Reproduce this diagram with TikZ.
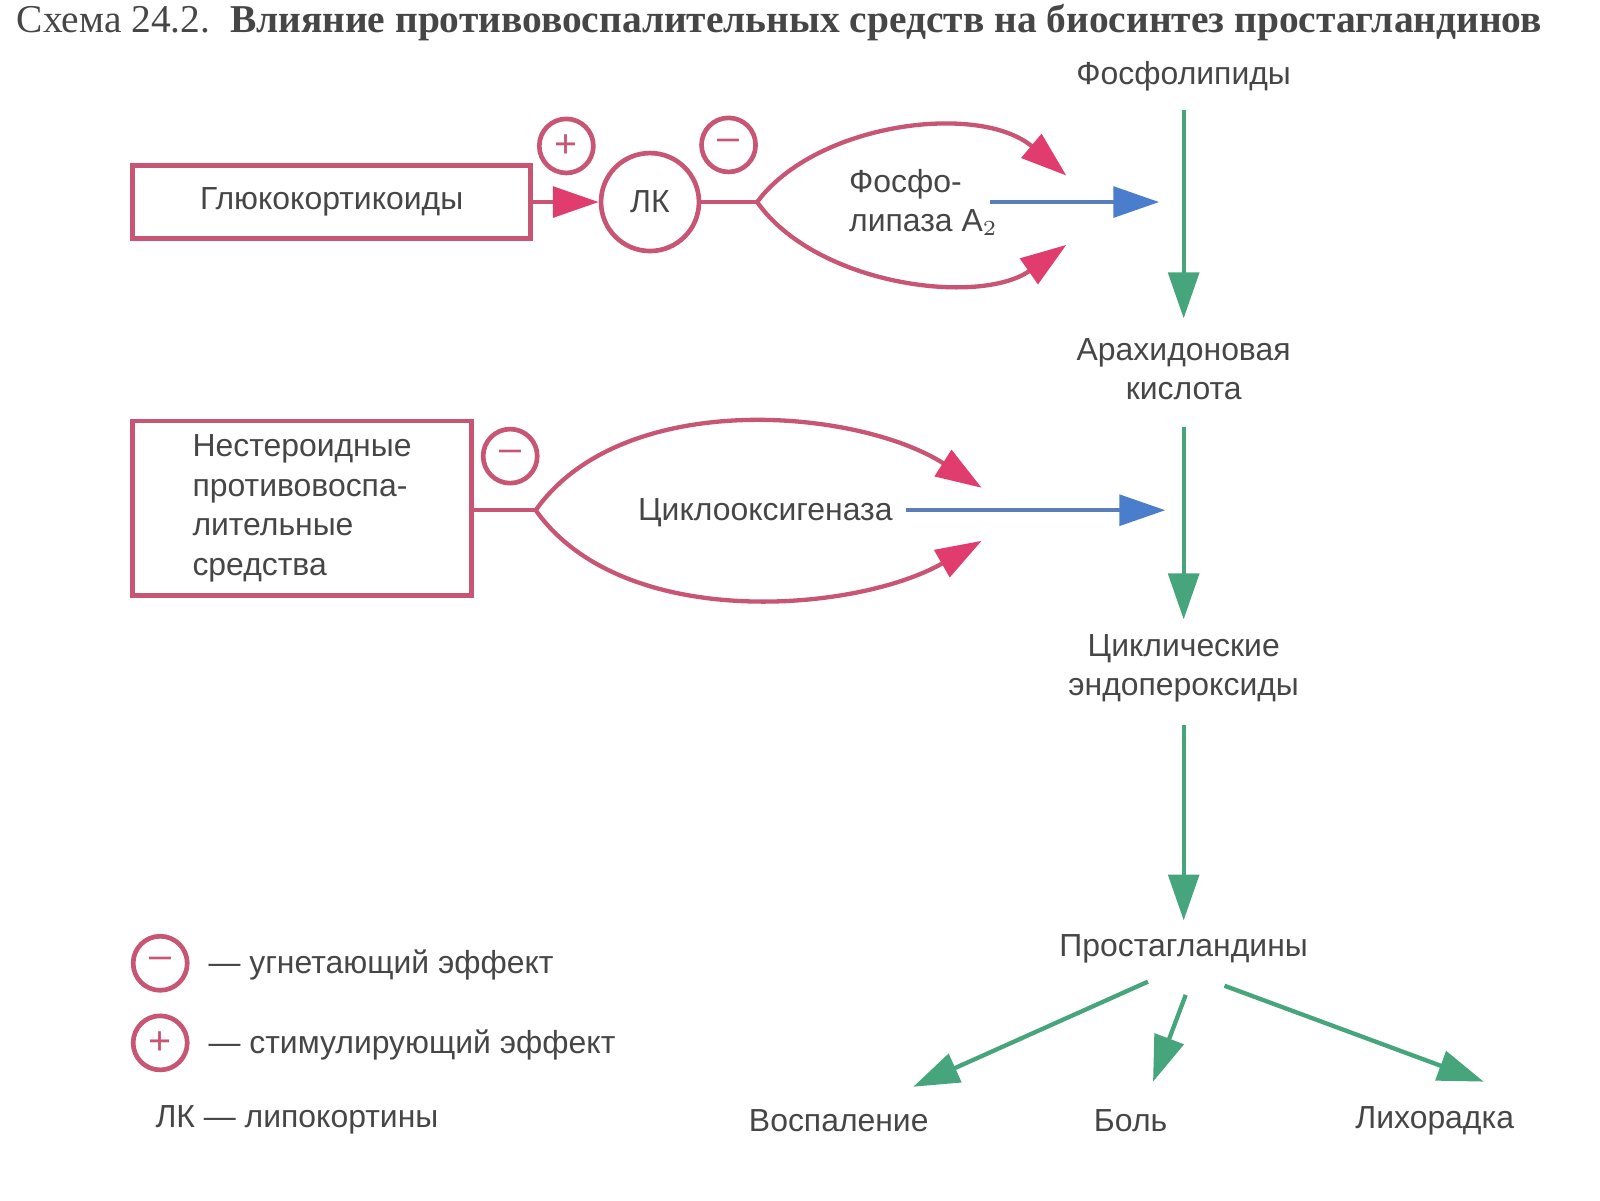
\documentclass[tikz,border=0pt]{standalone}
\usepackage{fontspec}
\setmainfont{Liberation Sans}
\newfontfamily\titlefont{Liberation Serif}
\usetikzlibrary{arrows.meta, positioning}
\definecolor{inhred}{RGB}{200,85,115}
\definecolor{tipred}{RGB}{225,60,110}
\definecolor{pathgreen}{RGB}{70,165,125}
\definecolor{flowblue}{RGB}{75,125,205}
\definecolor{labgray}{RGB}{70,70,70}

\tikzset{
  lab/.style={text=labgray, font=\fontsize{8.9}{11}\selectfont, align=center},
  drug/.style={draw=inhred, line width=1.3pt, lab},
  sign/.style={circle, draw=inhred, line width=1.3pt, minimum size=5.3mm, inner sep=0pt, text=inhred, font=\fontsize{11}{11}\selectfont},
  conv/.style={draw=pathgreen, line width=1.2pt, -{Triangle[length=4.5mm, width=3mm]}},
  block/.style={draw=inhred, line width=1.2pt},
  hit/.style={block, -{Triangle[length=4.5mm, width=3mm, color=tipred]}},
  flow/.style={draw=flowblue!70!gray, line width=1.2pt, -{Triangle[length=4.5mm, width=3mm, color=flowblue]}}
}

\begin{document}
\begin{tikzpicture}[x=0.1mm, y=-0.1mm]
\clip (0,0) rectangle (1568,1176);
\useasboundingbox (0,0) rectangle (1568,1176);

% title
\node[anchor=base west, font=\titlefont\fontsize{11}{12}\selectfont, text=labgray] (title) at (4,32)
  {Схема 24.2.\ \ \textbf{Влияние противовоспалительных средств на биосинтез простагландинов}};

% main pathway
\node[lab] (pl) at (1160,75) {Фосфолипиды};
\node[lab] (aa) at (1160,362) {Арахидоновая\\кислота};
\node[lab] (ce) at (1160,655) {Циклические\\эндопероксиды};
\node[lab] (pg) at (1160,930) {Простагландины};
\node[lab] (infl) at (822,1098) {Воспаление};
\node[lab] (pain) at (1108,1098) {Боль};
\node[lab] (fev) at (1406,1098) {Лихорадка};

\coordinate (pl1) at (1160,108); \coordinate (pl2) at (1160,312);
\coordinate (aa1) at (1160,418); \coordinate (aa2) at (1160,607);
\coordinate (ce1) at (1160,710); \coordinate (ce2) at (1160,902);
\draw[conv] (pl1) -- (pl2);
\draw[conv] (aa1) -- (aa2);
\draw[conv] (ce1) -- (ce2);
\coordinate (pgl) at (1125,962); \coordinate (pgm) at (1162,975); \coordinate (pgr) at (1200,966);
\coordinate (inflT) at (895,1065); \coordinate (painT) at (1130,1060); \coordinate (fevT) at (1454,1060);
\draw[conv] (pgl) -- (inflT);
\draw[conv] (pgm) -- (painT);
\draw[conv] (pgr) -- (fevT);

% glucocorticoids
\node[drug, minimum width=39mm, minimum height=7.2mm] (gc) at (325,198) {Глюкокортикоиды};
\node[sign, minimum size=9.6mm] (lk) at (637,198) {\fontsize{8.9}{11}\selectfont\color{labgray}ЛК};
\node[sign] (gcplus) at (555,143) {+};
\node[sign] (gcminus) at (714,142) {--};
\draw[hit] (gc.east) -- (lk.west);
\coordinate (pla) at (742,198);
\coordinate (plaup) at (1045,172); \coordinate (pladn) at (1045,240);
\draw[block] (lk.east) -- (pla);
\draw[hit] (pla) .. controls (800,120) and (960,100) .. (plaup);
\draw[hit] (pla) .. controls (800,280) and (960,300) .. (pladn);
\node[lab, align=left] (pla2) at (905,198) {Фосфо-\\липаза A$_2$};
\coordinate (pla2e) at (970,198); \coordinate (pla2t) at (1136,198);
\draw[flow] (pla2e) -- (pla2t);

% NSAIDs
\node[drug, minimum width=33.2mm, minimum height=17.1mm, align=left] (nsaid) at (296,498)
  {Нестероидные\\противовоспа-\\лительные\\средства};
\node[sign] (nsminus) at (500,447) {--};
\coordinate (cox) at (525,500);
\coordinate (coxup) at (962,478); \coordinate (coxdn) at (962,530);
\draw[block] (nsaid.east |- cox) -- (cox);
\draw[hit] (cox) .. controls (610,380) and (840,400) .. (coxup);
\draw[hit] (cox) .. controls (610,620) and (840,600) .. (coxdn);
\node[lab] (coxt) at (750,502) {Циклооксигеназа};
\coordinate (coxe) at (888,500); \coordinate (coxtip) at (1142,500);
\draw[flow] (coxe) -- (coxtip);

% legend
\node[sign] (legminus) at (157,944) {--};
\node[lab, anchor=west] (legminust) at (192,946) {— угнетающий эффект};
\node[sign] (legplus) at (157,1022) {+};
\node[lab, anchor=west] (legplust) at (192,1024) {— стимулирующий эффект};
\node[lab, anchor=west] (leglk) at (140,1097) {ЛК — липокортины};
\end{tikzpicture}
\end{document}
